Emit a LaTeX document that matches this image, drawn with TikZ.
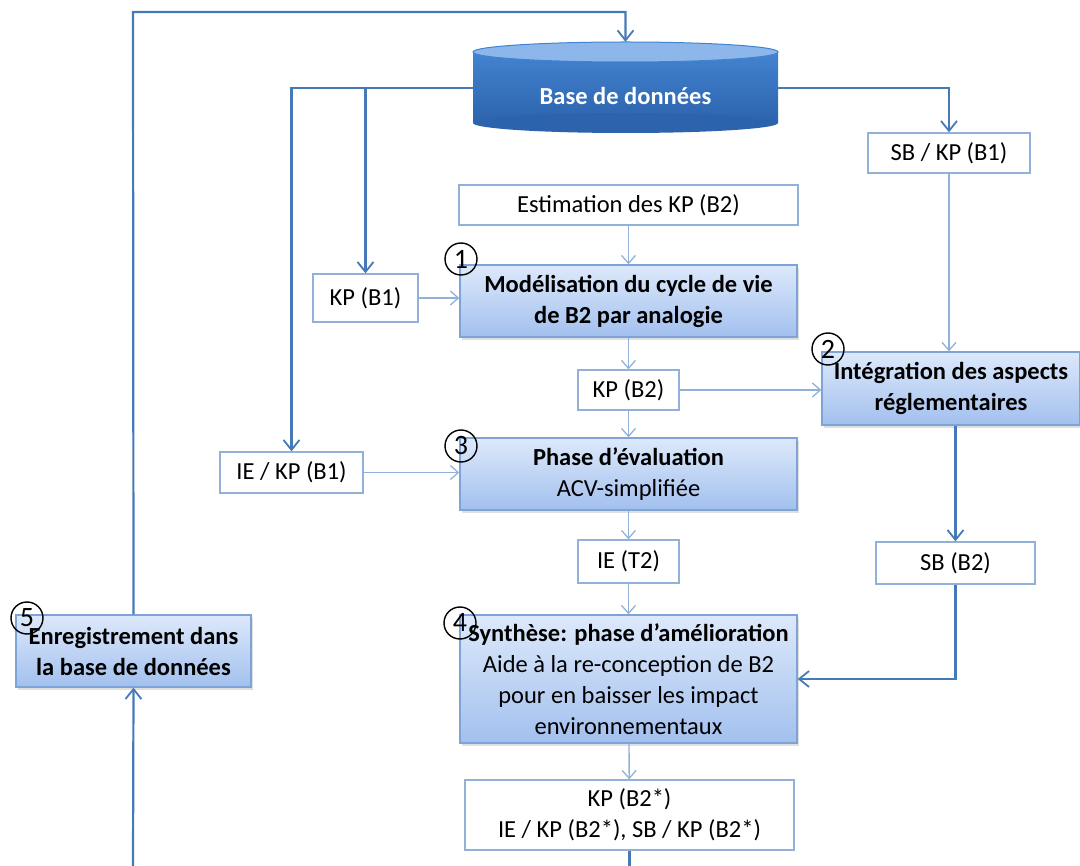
\documentclass[tikz,border=0pt]{standalone}
\usepackage{fontspec}
\setmainfont{Carlito}
\usetikzlibrary{arrows.meta,shadows,calc}
\definecolor{dark}{HTML}{4679B8}
\definecolor{light}{HTML}{92B1D8}
\definecolor{boxline}{HTML}{7EA3D6}
\definecolor{ftop}{HTML}{DDE9FB}
\definecolor{fbot}{HTML}{A2C0EE}
\definecolor{cyltop}{HTML}{8DB7EA}
\definecolor{cylA}{HTML}{4283D0}
\definecolor{cylB}{HTML}{2D63AC}
\newcommand{\myfs}{\fontsize{24.5}{31}\selectfont}
\tikzset{
  outbox/.style={draw=light, line width=1.3pt, fill=white, inner sep=0pt, align=center, font=\myfs},
  procbox/.style={draw=boxline, line width=1.3pt, top color=ftop, bottom color=fbot, inner sep=0pt, align=center, font=\myfs,
     drop shadow={shadow xshift=2pt, shadow yshift=-3pt, opacity=0.25, fill=gray}},
  numc/.style={circle, draw=black, line width=1.4pt, minimum size=32pt, inner sep=0pt, font=\fontsize{28}{28}\selectfont},
  darrow/.style={draw=dark, line width=2.2pt, -{Straight Barb[length=10pt,width=16pt,line width=1.8pt]}},
  dline/.style={draw=dark, line width=2.2pt},
  larrow/.style={draw=light, line width=1.4pt, -{Straight Barb[length=8pt,width=14pt,line width=1.3pt]}},
}
\begin{document}
\begin{tikzpicture}[x=1pt,y=-1pt]
\useasboundingbox (0,0) rectangle (1080,866);
% database cylinder
\shade[top color=cylA, bottom color=cylB] (473,52) rectangle (778,123);
\fill[cylB] (625.5,123) ellipse[x radius=152.5, y radius=10];
\fill[cyltop, draw=cylA, line width=1pt] (625.5,52) ellipse[x radius=152.5, y radius=10];
\node[minimum width=305pt, minimum height=92pt, inner sep=0pt] (db) at (625.5,88) {};
\node[text=white, font=\myfs\bfseries] (dblabel) at (625.5,96) {Base de donn\'ees};

% boxes
\node[outbox, minimum width=162pt, minimum height=40pt] (sbkp1) at (949,153) {SB / KP (B1)};
\node[outbox, minimum width=339pt, minimum height=40pt] (est) at (628.5,205) {Estimation des KP (B2)};
\node[outbox, minimum width=105pt, minimum height=48pt] (kpb1) at (365.5,298) {KP (B1)};
\node[procbox, minimum width=337pt, minimum height=72pt, font=\myfs\bfseries] (m1) at (628.5,301) {Mod\'elisation du cycle de vie\\de B2 par analogie};
\node[outbox, minimum width=101pt, minimum height=40pt] (kpb2) at (628.5,390) {KP (B2)};
\node[procbox, minimum width=258pt, minimum height=73pt, font=\myfs\bfseries] (int) at (951,388.5) {Int\'egration des aspects\\r\'eglementaires};
\node[outbox, minimum width=143pt, minimum height=41pt] (iekp1) at (291.5,472.5) {IE / KP (B1)};
\node[procbox, minimum width=337pt, minimum height=72pt] (eval) at (628.5,474) {\textbf{Phase d’\'evaluation}\\ACV-simplifi\'ee};
\node[outbox, minimum width=101pt, minimum height=43pt] (iet2) at (628.5,561.5) {IE (T2)};
\node[outbox, minimum width=159pt, minimum height=42pt] (sbb2) at (955.5,563) {SB (B2)};
\node[procbox, minimum width=337pt, minimum height=128pt] (synth) at (628.5,679) {\textbf{Synth\`ese: phase d’am\'elioration}\\Aide \`a la re-conception de B2\\pour en baisser les impact\\environnementaux};
\node[procbox, minimum width=235pt, minimum height=72pt, font=\myfs\bfseries] (enr) at (133.5,651) {Enregistrement dans\\la base de donn\'ees};
\node[outbox, minimum width=329pt, minimum height=70pt] (kpb2s) at (629.5,815) {KP (B2*)\\IE / KP (B2*), SB / KP (B2*)};

% numbers
\node[numc] (n1) at (461,259) {1};
\node[numc] (n2) at (828,349) {2};
\node[numc] (n3) at (461,446) {3};
\node[numc] (n4) at (460,623) {4};
\node[numc] (n5) at (27,618) {5};

% coordinates
\coordinate (topL) at (133,12);
\coordinate (botL) at (133,866);
\coordinate (botM) at (629.5,866);

% database connectors
\draw[darrow] (db.west) -| (iekp1.north);
\draw[darrow] (db.west -| kpb1.north) -- (kpb1.north);
\draw[darrow] (db.east) -| (sbkp1.north);
\draw[darrow] (enr.north) -- (topL) -| (db.north);
\draw[darrow] (botL) -- (enr.south);

% internal connectors
\draw[larrow] (est) -- (m1);
\draw[larrow] (kpb1.east) -- (kpb1.east -| m1.west);
\draw[larrow] (m1) -- (kpb2);
\draw[larrow] (kpb2.east) -- (kpb2.east -| int.west);
\draw[larrow] (sbkp1.south) -- (sbkp1.south |- int.north);
\draw[larrow] (kpb2) -- (eval);
\draw[larrow] (iekp1.east) -- (iekp1.east -| eval.west);
\draw[larrow] (eval) -- (iet2);
\draw[larrow] (iet2) -- (synth);
\draw[darrow] (sbb2.north |- int.south) -- (sbb2.north);
\draw[darrow] (sbb2.south) |- (synth.east);
\draw[larrow] (synth) -- (kpb2s);
\draw[dline] (kpb2s.south) -- (botM);
\end{tikzpicture}
\end{document}
